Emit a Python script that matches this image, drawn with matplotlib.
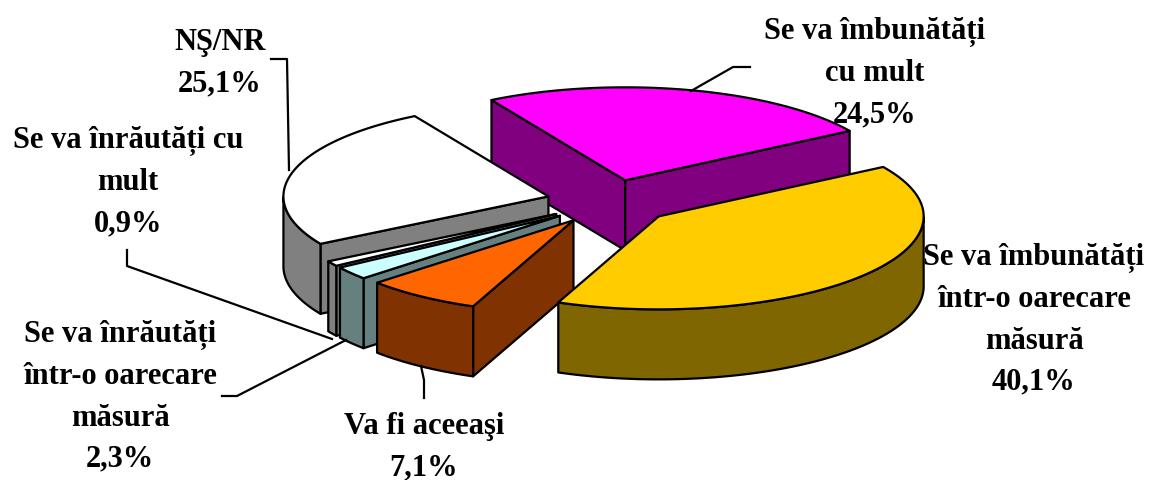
import numpy as np
import matplotlib
matplotlib.use('Agg')
import matplotlib.pyplot as plt
from matplotlib.patches import Polygon

# Slices, clockwise from the back of the pie
labels = ['Se va îmbunătăți\ncu mult', 'Se va îmbunătăți\nîntr-o oarecare\nmăsură', 'Va fi aceeaşi',
          'Se va înrăutăți\nîntr-o oarecare\nmăsură', 'Se va înrăutăți cu\nmult', 'NŞ/NR']
values = [24.5, 40.1, 7.1, 2.3, 0.9, 25.1]
top_colors = ['#FF00FF', '#FFCC00', '#FF6600', '#CCFFFF', '#FFFFFF', '#FFFFFF']
wall_colors = ['#800080', '#806600', '#803300', '#668080', '#808080', '#808080']
draw_order = [0, 5, 4, 3, 2, 1]

# Pie shape in pixels
cx, cy = 610, 202
rx, ry = 265, 93
depth = 70
explode = 0.24
start_angle = 120.3

# Label centres and leader lines
label_pos = [(875, 73), (1034, 320), (424, 447), (120, 397), (128, 182), (220, 63)]
leaders = [([750, 733, 691], [67, 67, 91]),
           ([], []),
           ([421, 424, 424], [366, 380, 398]),
           ([222, 237, 346], [396, 396, 340]),
           ([127, 127, 332], [250, 266, 339]),
           ([271, 287, 289], [59, 59, 170])]

fig = plt.figure(figsize=(11.52, 4.8), dpi=100)
ax = fig.add_axes([0, 0, 1, 1])
ax.set_xlim(0, 1152)
ax.set_ylim(480, 0)
ax.axis('off')


def pie_xy(deg):
    return rx * np.cos(np.radians(deg)), -ry * np.sin(np.radians(deg))


def face(pts, color, z):
    ax.add_patch(Polygon(pts, closed=True, facecolor=color, edgecolor='black', lw=1.6,
                         joinstyle='round', zorder=z))


sweeps = np.array(values) / sum(values) * 360
starts = start_angle - np.concatenate([[0], np.cumsum(sweeps)[:-1]])

for z, i in enumerate(draw_order):
    a0, a1 = starts[i], starts[i] - sweeps[i]
    mid = (a0 + a1) / 2
    ox, oy = pie_xy(mid)
    apex = np.array([cx + explode * ox, cy + explode * oy])
    angles = np.linspace(a0, a1, 200)
    ex, ey = pie_xy(angles)
    rim = np.column_stack([apex[0] + ex, apex[1] + ey])
    down = np.array([0, depth])
    base = z * 10

    # cut faces, only if they look towards the viewer
    for edge, sign in ((rim[0], -1), (rim[-1], 1)):
        d = edge - apex
        if sign * d[0] > 0:
            face([apex, edge, edge + down, apex + down], wall_colors[i], base + 1)

    # outer wall, front part of the rim only
    front = rim[np.sin(np.radians(angles)) <= 0]
    if len(front) > 1:
        face(np.vstack([front, (front + down)[::-1]]), wall_colors[i], base + 2)

    # top surface
    face(np.vstack([apex, rim]), top_colors[i], base + 3)

for (xs, ys) in leaders:
    if xs:
        ax.plot(xs, ys, color='black', lw=1.6, zorder=200)

for name, v, (x, y) in zip(labels, values, label_pos):
    txt = name + '\n' + f'{v:.1f}%'.replace('.', ',')
    ax.text(x, y, txt, ha='center', va='center', family='Liberation Serif', weight='bold',
            fontsize=22, linespacing=1.55, color='black', zorder=300)

fig.savefig('out.png', dpi=100)
